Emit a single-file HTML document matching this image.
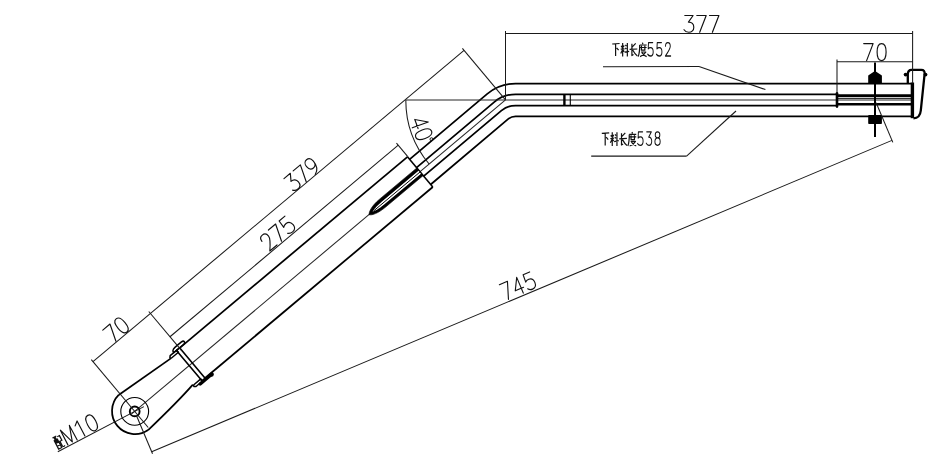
<!DOCTYPE html>
<html><head><meta charset="utf-8"><style>
html,body{margin:0;padding:0;background:#fff;width:945px;height:468px;overflow:hidden;font-family:"Liberation Sans",sans-serif;}
svg{display:block;}
</style></head><body><svg width="945" height="468" viewBox="0 0 945 468"><path d="M409.59 159.33 L487.24 93.82 A44.1 44.1 0 0 1 515.58 83.5 L911.5 83.5" stroke="#000" stroke-width="1.75" fill="none" stroke-linejoin="round" /><path d="M430.67 184.46 L508.32 118.94 A11.3 11.3 0 0 1 515.58 116.3 L913 116.3" stroke="#000" stroke-width="1.75" fill="none" stroke-linejoin="round" /><path d="M416.53 167.61 L494.18 102.09 A33.3 33.3 0 0 1 515.58 94.3 L837 94.3" stroke="#000" stroke-width="1.75" fill="none" stroke-linejoin="round" /><path d="M423.73 176.19 L501.38 110.67 A22.1 22.1 0 0 1 515.58 105.5 L837 105.5" stroke="#000" stroke-width="1.75" fill="none" stroke-linejoin="round" /><line x1="131.64" y1="413.97" x2="505.5" y2="99.9" stroke="#262626" stroke-width="1.05" stroke-linecap="butt"/><line x1="406" y1="99.9" x2="911" y2="99.9" stroke="#262626" stroke-width="1.05" stroke-linecap="butt"/><line x1="179.49" y1="348.1" x2="407.47" y2="156.81" stroke="#000" stroke-width="1.75" stroke-linecap="butt"/><line x1="204.82" y1="378.28" x2="432.79" y2="186.99" stroke="#000" stroke-width="1.75" stroke-linecap="butt"/><line x1="407.47" y1="156.81" x2="432.79" y2="186.99" stroke="#000" stroke-width="1.57" stroke-linecap="butt"/><path d="M416.79 167.91 L379.56 199.15 C371.13 206.22 368.84 212.06 369.11 214.71 C371.67 215.43 377.56 213.88 385.98 206.81 L423.21 175.57 Z" stroke="#000" stroke-width="0.6" fill="#000" stroke-linejoin="round" /><path d="M418.52 170.76 L381.68 201.68 C376.31 206.18 373.89 209.52 372.56 211.81 C375.05 210.9 378.76 209.09 384.12 204.59 L420.97 173.67 Z" stroke="#fff" stroke-width="0.01" fill="#fff" stroke-linejoin="round" /><line x1="373.71" y1="210.85" x2="420.13" y2="171.9" stroke="#000" stroke-width="1" stroke-linecap="butt"/><path d="M118.68 394.95 L170.86 358.35" stroke="#000" stroke-width="1.75" fill="none" stroke-linejoin="round" /><path d="M148.12 430.04 Q178.33 401.16 192.84 384.55" stroke="#000" stroke-width="1.75" fill="none" stroke-linejoin="round" /><path d="M170.17 355.66 L176.68 350.2 L178.42 352.26 L171.52 358.05 Q170.76 358.69 169.92 357.7 Z" stroke="#000" stroke-width="1.5" fill="none" stroke-linejoin="round" /><path d="M196.01 386.46 L202.52 380.99 L200.79 378.92 L193.89 384.71 Q193.12 385.35 194.02 386.42 Z" stroke="#000" stroke-width="1.5" fill="none" stroke-linejoin="round" /><path d="M118.68 394.95 A23 23 0 0 0 148.12 430.04" stroke="#000" stroke-width="1.75" fill="none"/><path d="M176.45 350.39 L179.59 347.75 L205.11 378.17 L201.97 380.8 Z" stroke="#000" stroke-width="1.6" fill="none" stroke-linejoin="round" /><path d="M173.62 352.77 C171.43 350.16 174.11 347.91 177.18 345.34 L181.45 341.88 C183.96 340.04 185.95 342.42 183.64 344.49 Z" stroke="#000" stroke-width="1.5" fill="none" stroke-linejoin="round" /><line x1="200.2" y1="383.98" x2="212" y2="374.08" stroke="#000" stroke-width="3.3" stroke-linecap="round"/><circle cx="211.59" cy="374.69" r="2.1" fill="#000"/><circle cx="134.7" cy="411.4" r="4.9" stroke="#000" stroke-width="1.9" fill="none"/><circle cx="134.7" cy="411.4" r="13.9" stroke="#000" stroke-width="1.1" fill="none"/><line x1="564.4" y1="94.4" x2="564.4" y2="105.4" stroke="#000" stroke-width="2.4" stroke-linecap="butt"/><line x1="570.3" y1="94.4" x2="570.3" y2="105.4" stroke="#000" stroke-width="1.1" stroke-linecap="butt"/><line x1="837" y1="93.2" x2="837" y2="106.6" stroke="#000" stroke-width="2.6" stroke-linecap="round"/><line x1="837" y1="95.6" x2="911" y2="95.6" stroke="#000" stroke-width="2.8" stroke-linecap="butt"/><line x1="837" y1="104.3" x2="911" y2="104.3" stroke="#000" stroke-width="2.6" stroke-linecap="butt"/><line x1="837" y1="98.3" x2="911" y2="98.3" stroke="#000" stroke-width="1" stroke-linecap="butt"/><line x1="875" y1="62.6" x2="875" y2="137" stroke="#000" stroke-width="2" stroke-linecap="butt"/><path d="M869 83.2 L869 76 L875 71.9 L881.1 76 L881.1 83.2 Z" stroke="#000" stroke-width="1.6" fill="#000" stroke-linejoin="round" /><path d="M869 115.9 L881.1 115.9 L881.1 123.3 L869 123.3 Z" stroke="#000" stroke-width="1.6" fill="#000" stroke-linejoin="round" /><path d="M907.8 84 L907.8 74.5 Q907.8 69.8 911.5 69.8 L921.3 69.8 Q925 69.8 924.6 74 L920.8 110.5 Q920 118.3 913.5 118.3" stroke="#000" stroke-width="2.3" fill="none" stroke-linejoin="round" /><line x1="912.4" y1="82.5" x2="912.4" y2="118.2" stroke="#000" stroke-width="3.4" stroke-linecap="butt"/><circle cx="905.6" cy="74.6" r="1.9" fill="#000"/><circle cx="925.5" cy="74.6" r="1.9" fill="#000"/><line x1="912.6" y1="31" x2="912.6" y2="83.5" stroke="#1a1a1a" stroke-width="1.05" stroke-linecap="butt"/><line x1="505.5" y1="33.4" x2="912.6" y2="33.4" stroke="#1a1a1a" stroke-width="1.05" stroke-linecap="butt"/><line x1="505.5" y1="31" x2="505.5" y2="99.9" stroke="#1a1a1a" stroke-width="1.05" stroke-linecap="butt"/><line x1="837" y1="61.8" x2="912.6" y2="61.8" stroke="#1a1a1a" stroke-width="1.05" stroke-linecap="butt"/><line x1="837" y1="59.4" x2="837" y2="93.5" stroke="#1a1a1a" stroke-width="1.05" stroke-linecap="butt"/><line x1="92.98" y1="361.68" x2="464.06" y2="50.32" stroke="#1a1a1a" stroke-width="1.05" stroke-linecap="butt"/><line x1="462.38" y1="48.33" x2="505.5" y2="99.9" stroke="#1a1a1a" stroke-width="1.05" stroke-linecap="butt"/><line x1="148.77" y1="311.48" x2="181.87" y2="350.93" stroke="#1a1a1a" stroke-width="1.05" stroke-linecap="butt"/><line x1="91.31" y1="359.69" x2="148.2" y2="427.49" stroke="#1a1a1a" stroke-width="1.05" stroke-linecap="butt"/><line x1="169.98" y1="336.76" x2="398.26" y2="145.21" stroke="#1a1a1a" stroke-width="1.05" stroke-linecap="butt"/><line x1="396.46" y1="143.07" x2="407.77" y2="156.55" stroke="#1a1a1a" stroke-width="1.05" stroke-linecap="butt"/><path d="M405.8 99.9 A99.7 99.7 0 0 0 429.13 163.99" stroke="#1a1a1a" stroke-width="1.05" fill="none"/><line x1="151.68" y1="451.77" x2="891.98" y2="140.37" stroke="#1a1a1a" stroke-width="1.05" stroke-linecap="butt"/><line x1="136.64" y1="416.01" x2="152.54" y2="453.8" stroke="#1a1a1a" stroke-width="1.05" stroke-linecap="butt"/><line x1="876.16" y1="102.77" x2="892.84" y2="142.4" stroke="#1a1a1a" stroke-width="1.05" stroke-linecap="butt"/><line x1="57.8" y1="451.8" x2="143.9" y2="406.6" stroke="#1a1a1a" stroke-width="1.05" stroke-linecap="butt"/><line x1="603" y1="66.7" x2="699" y2="66.5" stroke="#1a1a1a" stroke-width="1.05" stroke-linecap="butt"/><line x1="699" y1="66.5" x2="765.4" y2="89.6" stroke="#1a1a1a" stroke-width="1.05" stroke-linecap="butt"/><line x1="591.2" y1="156.1" x2="686.6" y2="156.1" stroke="#1a1a1a" stroke-width="1.05" stroke-linecap="butt"/><line x1="686.6" y1="156.1" x2="736" y2="111" stroke="#1a1a1a" stroke-width="1.05" stroke-linecap="butt"/><g transform="translate(683.8 32.3) rotate(0) scale(1 0.99)" fill="none" stroke="#111" stroke-width="1.16" stroke-linecap="round" stroke-linejoin="round"><path transform="translate(0 0)" d="M1 -17 L9.3 -17 L4.6 -10.3 C8 -10.5 10 -8.2 10 -5.2 C10 -2 8 0 5 0 C3 0 1.3 -0.9 0.2 -2.6"/><path transform="translate(12.7 0)" d="M0.3 -17 L9.7 -17 L3.2 0"/><path transform="translate(25.4 0)" d="M0.3 -17 L9.7 -17 L3.2 0"/></g><g transform="translate(863.4 60.6) rotate(0) scale(1 1)" fill="none" stroke="#111" stroke-width="1.15" stroke-linecap="round" stroke-linejoin="round"><path transform="translate(0 0)" d="M0.3 -17 L9.7 -17 L3.2 0"/><path transform="translate(13.2 0)" d="M5 0 C2 0 0.5 -3.5 0.5 -8.5 C0.5 -13.5 2 -17 5 -17 C8 -17 9.5 -13.5 9.5 -8.5 C9.5 -3.5 8 0 5 0 Z"/></g><g transform="translate(294.13 192.25) rotate(-40) scale(1 1)" fill="none" stroke="#111" stroke-width="1.15" stroke-linecap="round" stroke-linejoin="round"><path transform="translate(0 0)" d="M1 -17 L9.3 -17 L4.6 -10.3 C8 -10.5 10 -8.2 10 -5.2 C10 -2 8 0 5 0 C3 0 1.3 -0.9 0.2 -2.6"/><path transform="translate(12.7 0)" d="M0.3 -17 L9.7 -17 L3.2 0"/><path transform="translate(25.4 0)" d="M9.4 -11.5 C9.4 -8.4 7.6 -6.2 5 -6.2 C2.4 -6.2 0.6 -8.4 0.6 -11.6 C0.6 -14.8 2.5 -17 5 -17 C7.6 -17 9.4 -14.8 9.4 -11.5 C9.4 -6 6.5 -1.5 2.2 0"/></g><g transform="translate(269.36 251.41) rotate(-40) scale(1 1)" fill="none" stroke="#111" stroke-width="1.15" stroke-linecap="round" stroke-linejoin="round"><path transform="translate(0 0)" d="M0.8 -12.5 C0.8 -15.5 2.8 -17 5 -17 C7.6 -17 9.3 -15.3 9.3 -12.3 C9.3 -9 6 -5.5 0.6 0 L10 0"/><path transform="translate(12.7 0)" d="M0.3 -17 L9.7 -17 L3.2 0"/><path transform="translate(25.4 0)" d="M9.2 -17 L1.6 -17 L1.1 -9.2 C2.1 -10.2 3.7 -10.6 5.3 -10.6 C8.3 -10.6 10 -8.2 10 -5.2 C10 -2 8 0 5 0 C3 0 1.3 -0.8 0.2 -2.2"/></g><g transform="translate(113.47 343.32) rotate(-40) scale(1 1)" fill="none" stroke="#111" stroke-width="1.15" stroke-linecap="round" stroke-linejoin="round"><path transform="translate(0 0)" d="M0.3 -17 L9.7 -17 L3.2 0"/><path transform="translate(12.7 0)" d="M5 0 C2 0 0.5 -3.5 0.5 -8.5 C0.5 -13.5 2 -17 5 -17 C8 -17 9.5 -13.5 9.5 -8.5 C9.5 -3.5 8 0 5 0 Z"/></g><g transform="translate(505.71 300.47) rotate(-22.81) scale(0.93 1)" fill="none" stroke="#111" stroke-width="1.19" stroke-linecap="round" stroke-linejoin="round"><path transform="translate(0 0)" d="M0.3 -17 L9.7 -17 L3.2 0"/><path transform="translate(13.2 0)" d="M7.3 0 L7.3 -17 L0.3 -5.2 L10 -5.2"/><path transform="translate(26.4 0)" d="M9.2 -17 L1.6 -17 L1.1 -9.2 C2.1 -10.2 3.7 -10.6 5.3 -10.6 C8.3 -10.6 10 -8.2 10 -5.2 C10 -2 8 0 5 0 C3 0 1.3 -0.8 0.2 -2.2"/></g><g transform="translate(58 451.4) rotate(-27.54)" fill="none" stroke="#111" stroke-width="1.15" stroke-linecap="round" stroke-linejoin="round"><path transform="translate(9.6 -1.2)" d="M2.2 0 L2.3 -16.5 L7.5 -0.6 L12.5 -16.6 L12.7 0"/><path transform="translate(24.5 -1.2)" d="M2.5 -13.5 L6.5 -17 L6.5 0"/><path transform="translate(38 -1.2)" d="M5 0 C2 0 0.5 -3.5 0.5 -8.5 C0.5 -13.5 2 -17 5 -17 C8 -17 9.5 -13.5 9.5 -8.5 C9.5 -3.5 8 0 5 0 Z"/></g><g transform="translate(58 451.4) rotate(-27.54)" fill="none" stroke="#111" stroke-width="1.1" stroke-linejoin="miter"><path transform="translate(1.2 -15.6) scale(1.15 1.02)" d="M0 1.2 L3.8 1.2 M0.4 4.2 L0.4 13.6 L3.4 13.6 L3.4 4.2 Z M1.4 1.2 L1.4 7.5 M2.4 1.2 L2.4 7.5 M0.4 7.5 L3.4 7.5 M0.4 10.5 L3.4 10.5 M4.3 2.2 L6.4 2.2 L6.4 7.4 L4.5 7.4 L4.5 12.6 C4.5 13.6 5.4 13.8 6.8 13.2"/></g><g transform="translate(409.79 120.94) rotate(70) scale(1 1)" fill="none" stroke="#111" stroke-width="1.15" stroke-linecap="round" stroke-linejoin="round"><path transform="translate(0 0)" d="M7.3 0 L7.3 -17 L0.3 -5.2 L10 -5.2"/><path transform="translate(12.2 0)" d="M5 0 C2 0 0.5 -3.5 0.5 -8.5 C0.5 -13.5 2 -17 5 -17 C8 -17 9.5 -13.5 9.5 -8.5 C9.5 -3.5 8 0 5 0 Z"/></g><circle cx="431.51" cy="139.24" r="1.5" stroke="#111" stroke-width="1" fill="none"/><g transform="translate(612 42.6) rotate(0) scale(1 1)" fill="none" stroke="#111" stroke-width="1.2" stroke-linecap="butt" stroke-linejoin="round"><path transform="translate(0 0)" d="M0.2 1.4 L7.6 0.9 M3.6 1.2 L3.6 13.4 M4.6 5.2 L6.6 7.6"/><path transform="translate(8.75 0)" d="M0.5 3.2 L1.2 4.8 M3.3 2.8 L2.6 4.6 M0 6.6 L3.8 6.2 M1.9 0.3 L1.9 13.9 M1.9 7 L0 10.8 M2.1 7.4 L3.4 9 M4.6 2.4 L5.7 3.6 M4.5 5.2 L5.6 6.4 M3.8 9.6 L8.4 8.7 M6.6 0.3 L6.6 13.9"/><path transform="translate(17.5 0)" d="M2.4 1.2 L2.4 13 L4 12 M6.2 0.8 L2.6 4.6 M0.1 6.8 L7.8 6.4 M3.2 7.4 C4.6 10 6.2 12.2 7.9 13.4"/><path transform="translate(26.25 0)" d="M4.2 0 L4.6 1.5 M1.4 2.4 L8.4 2.4 M1.4 2.4 C1.5 7.6 1.1 11 0 14 M1.8 4.9 L8.4 4.9 M3.2 3.2 L3.2 7.6 L6.6 7.6 L6.6 3.2 M2.8 9.4 L7.6 9.4 C6.4 11.6 4.4 13.2 1.8 14 M3.6 10.1 C5 12 6.6 13.3 8.4 14"/></g><g transform="translate(647.6 56) rotate(0) scale(0.56 0.79)" fill="none" stroke="#111" stroke-width="1.7" stroke-linecap="round" stroke-linejoin="round"><path transform="translate(0 0)" d="M9.2 -17 L1.6 -17 L1.1 -9.2 C2.1 -10.2 3.7 -10.6 5.3 -10.6 C8.3 -10.6 10 -8.2 10 -5.2 C10 -2 8 0 5 0 C3 0 1.3 -0.8 0.2 -2.2"/><path transform="translate(15.6 0)" d="M9.2 -17 L1.6 -17 L1.1 -9.2 C2.1 -10.2 3.7 -10.6 5.3 -10.6 C8.3 -10.6 10 -8.2 10 -5.2 C10 -2 8 0 5 0 C3 0 1.3 -0.8 0.2 -2.2"/><path transform="translate(31.2 0)" d="M0.8 -12.5 C0.8 -15.5 2.8 -17 5 -17 C7.6 -17 9.3 -15.3 9.3 -12.3 C9.3 -9 6 -5.5 0.6 0 L10 0"/></g><g transform="translate(601.6 132) rotate(0) scale(1 1)" fill="none" stroke="#111" stroke-width="1.2" stroke-linecap="butt" stroke-linejoin="round"><path transform="translate(0 0)" d="M0.2 1.4 L7.6 0.9 M3.6 1.2 L3.6 13.4 M4.6 5.2 L6.6 7.6"/><path transform="translate(8.75 0)" d="M0.5 3.2 L1.2 4.8 M3.3 2.8 L2.6 4.6 M0 6.6 L3.8 6.2 M1.9 0.3 L1.9 13.9 M1.9 7 L0 10.8 M2.1 7.4 L3.4 9 M4.6 2.4 L5.7 3.6 M4.5 5.2 L5.6 6.4 M3.8 9.6 L8.4 8.7 M6.6 0.3 L6.6 13.9"/><path transform="translate(17.5 0)" d="M2.4 1.2 L2.4 13 L4 12 M6.2 0.8 L2.6 4.6 M0.1 6.8 L7.8 6.4 M3.2 7.4 C4.6 10 6.2 12.2 7.9 13.4"/><path transform="translate(26.25 0)" d="M4.2 0 L4.6 1.5 M1.4 2.4 L8.4 2.4 M1.4 2.4 C1.5 7.6 1.1 11 0 14 M1.8 4.9 L8.4 4.9 M3.2 3.2 L3.2 7.6 L6.6 7.6 L6.6 3.2 M2.8 9.4 L7.6 9.4 C6.4 11.6 4.4 13.2 1.8 14 M3.6 10.1 C5 12 6.6 13.3 8.4 14"/></g><g transform="translate(637.5 145.3) rotate(0) scale(0.56 0.79)" fill="none" stroke="#111" stroke-width="1.7" stroke-linecap="round" stroke-linejoin="round"><path transform="translate(0 0)" d="M9.2 -17 L1.6 -17 L1.1 -9.2 C2.1 -10.2 3.7 -10.6 5.3 -10.6 C8.3 -10.6 10 -8.2 10 -5.2 C10 -2 8 0 5 0 C3 0 1.3 -0.8 0.2 -2.2"/><path transform="translate(15.4 0)" d="M1 -17 L9.3 -17 L4.6 -10.3 C8 -10.5 10 -8.2 10 -5.2 C10 -2 8 0 5 0 C3 0 1.3 -0.9 0.2 -2.6"/><path transform="translate(30.8 0)" d="M5 -9.3 C2.3 -9.3 0.9 -11 0.9 -13.1 C0.9 -15.4 2.6 -17 5 -17 C7.4 -17 9.1 -15.4 9.1 -13.1 C9.1 -11 7.7 -9.3 5 -9.3 C2 -9.3 0.3 -7.4 0.3 -4.7 C0.3 -1.8 2.3 0 5 0 C7.7 0 9.7 -1.8 9.7 -4.7 C9.7 -7.4 8 -9.3 5 -9.3 Z"/></g></svg></body></html>
